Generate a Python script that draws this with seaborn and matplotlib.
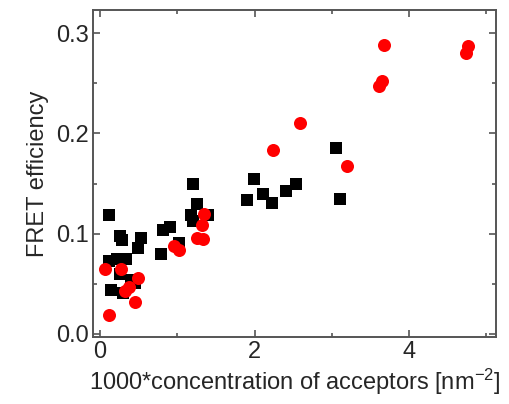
import matplotlib
matplotlib.use("Agg")
import matplotlib.pyplot as plt
import pandas as pd
import seaborn as sns
from matplotlib.ticker import MultipleLocator

# black squares
sq_x = [0.12, 0.14, 0.11, 0.22, 0.26, 0.28, 0.34, 0.26, 0.30, 0.45, 0.40, 0.49, 0.53,
        0.79, 0.81, 0.91, 1.02, 1.20, 1.26, 1.17, 1.20, 1.39,
        1.99, 1.90, 2.11, 2.22, 2.41, 2.54, 3.05, 3.10]
sq_y = [0.119, 0.044, 0.073, 0.075, 0.098, 0.094, 0.075, 0.060, 0.041, 0.051, 0.054, 0.086, 0.096,
        0.080, 0.104, 0.107, 0.091, 0.150, 0.130, 0.119, 0.113, 0.119,
        0.155, 0.134, 0.140, 0.131, 0.143, 0.150, 0.186, 0.135]

# red circles
ci_x = [0.12, 0.06, 0.27, 0.49, 0.32, 0.37, 0.45, 0.95, 1.02, 1.35, 1.32, 1.26, 1.33,
        2.24, 2.59, 3.19, 3.67, 3.61, 3.65, 4.74, 4.76]
ci_y = [0.019, 0.065, 0.065, 0.056, 0.043, 0.047, 0.032, 0.088, 0.084, 0.120, 0.109, 0.096, 0.095,
        0.184, 0.210, 0.168, 0.288, 0.247, 0.252, 0.280, 0.287]

sq = pd.DataFrame({"x": sq_x, "y": sq_y})
ci = pd.DataFrame({"x": ci_x, "y": ci_y})

sns.set_style("ticks")
plt.rcParams["font.family"] = ["Liberation Sans", "DejaVu Sans"]
plt.rcParams["mathtext.fontset"] = "custom"
plt.rcParams["mathtext.rm"] = "Liberation Sans"
plt.rcParams["mathtext.default"] = "regular"

fig = plt.figure(figsize=(5.09, 4.04), dpi=100)
ax = fig.add_axes([0.183, 0.166, 0.791, 0.810])

sns.scatterplot(data=sq, x="x", y="y", marker="s", color="black", s=72,
                linewidth=0, ax=ax)
sns.scatterplot(data=ci, x="x", y="y", marker="o", color="red", s=88,
                linewidth=0, ax=ax)

ax.set_xlim(-0.09, 5.12)
ax.set_ylim(-0.003, 0.3235)
ax.xaxis.set_major_locator(MultipleLocator(2))
ax.xaxis.set_minor_locator(MultipleLocator(1))
ax.yaxis.set_major_locator(MultipleLocator(0.1))
ax.yaxis.set_minor_locator(MultipleLocator(0.05))
ax.yaxis.set_major_formatter(plt.FuncFormatter(lambda v, p: f"{v:.1f}"))

ax.tick_params(which="both", direction="in", top=True, right=True,
               labeltop=False, labelright=False, color="#555555", width=1.2)
ax.tick_params(which="major", length=5, labelsize=17, pad=3)
ax.tick_params(which="minor", length=3)
for sp in ax.spines.values():
    sp.set_color("#555555")
    sp.set_linewidth(1.4)

ax.set_xlabel("1000*concentration of acceptors [nm$^{-2}$]", fontsize=17, labelpad=3)
ax.set_ylabel("FRET efficiency", fontsize=17, labelpad=5)

fig.savefig("out.png", dpi=100)
